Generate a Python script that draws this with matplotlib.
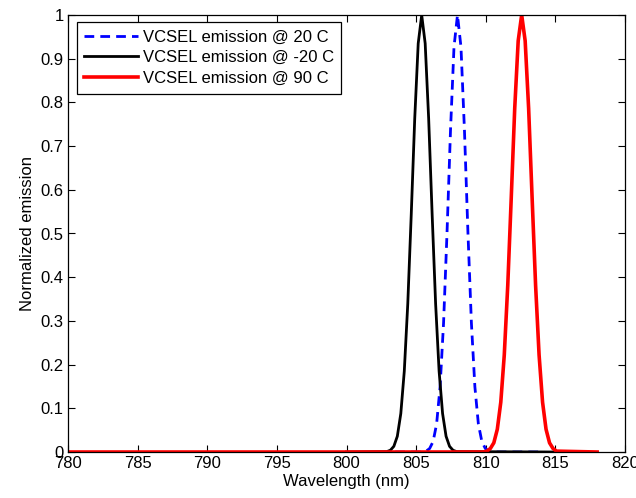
import matplotlib.pyplot as plt
import numpy as np

# measured spectra (normalized), wavelength in nm
wl_20 = [803.5, 805.47, 805.72, 805.97, 806.22, 806.47, 806.72, 806.97, 807.22, 807.47, 807.72,
         807.97, 808.22, 808.47, 808.72, 808.97, 809.22, 809.47, 809.72, 809.97, 810.22, 810.47, 814.2]
em_20 = [0.0, 0.0, 0.002, 0.008, 0.024, 0.064, 0.149, 0.295, 0.503, 0.737, 0.927,
         1.0, 0.927, 0.737, 0.503, 0.295, 0.149, 0.064, 0.024, 0.008, 0.002, 0.0, 0.0]

wl_m20 = [800.0, 802.9, 803.15, 803.4, 803.65, 803.9, 804.15, 804.4, 804.65, 804.9, 805.15,
          805.4, 805.65, 805.9, 806.15, 806.4, 806.65, 806.9, 807.15, 807.4, 807.65, 807.9, 815.0]
em_m20 = [0.0, 0.001, 0.004, 0.013, 0.036, 0.088, 0.185, 0.339, 0.544, 0.763, 0.935,
          1.0, 0.935, 0.763, 0.544, 0.339, 0.185, 0.088, 0.036, 0.013, 0.004, 0.001, 0.0]

wl_90 = [780.0, 809.83, 810.08, 810.33, 810.58, 810.83, 811.08, 811.33, 811.58, 811.83, 812.08, 812.33,
         812.58, 812.83, 813.08, 813.33, 813.58, 813.83, 814.08, 814.33, 814.58, 814.83, 815.08, 818.0]
em_90 = [0.0, 0.0, 0.002, 0.008, 0.021, 0.052, 0.114, 0.222, 0.381, 0.581, 0.786, 0.941,
         1.0, 0.941, 0.786, 0.581, 0.381, 0.222, 0.114, 0.052, 0.021, 0.008, 0.002, 0.0]

plt.rcParams['font.family'] = ['Liberation Sans', 'DejaVu Sans']

fig = plt.figure(figsize=(6.36, 4.98), dpi=100)
ax = fig.add_axes([68/636, 1 - 452/498, 557/636, 437/498])

ax.plot(wl_20, em_20, color='blue', lw=2, ls=(0, (3.5, 2.2)), label='VCSEL emission @ 20 C')
ax.plot(wl_m20, em_m20, color='black', lw=2, label='VCSEL emission @ -20 C')
ax.plot(wl_90, em_90, color='red', lw=2.6, label='VCSEL emission @ 90 C')

ax.set_xlim(780, 820)
ax.set_ylim(0, 1)
ax.set_xticks(np.arange(780, 821, 5))
ax.set_yticks(np.arange(0, 1.01, 0.1))
ax.set_yticklabels(['0', '0.1', '0.2', '0.3', '0.4', '0.5', '0.6', '0.7', '0.8', '0.9', '1'])
ax.tick_params(direction='in', top=True, right=True, length=5, width=0.8,
               labelsize=12, pad=3)
for s in ax.spines.values():
    s.set_linewidth(0.9)

ax.set_xlabel('Wavelength (nm)', fontsize=12, labelpad=2)
ax.set_ylabel('Normalized emission', fontsize=12, labelpad=4)

leg = ax.legend(loc='upper left', bbox_to_anchor=(0.016, 0.984), borderaxespad=0,
                fancybox=False, edgecolor='black', framealpha=1, fontsize=12,
                handlelength=3.2, handletextpad=0.3, labelspacing=0.35,
                borderpad=0.45)
leg.get_frame().set_linewidth(0.9)

fig.savefig('out.png', dpi=100)
